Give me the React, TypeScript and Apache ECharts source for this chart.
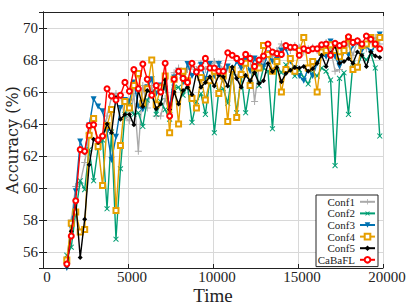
import React, { useEffect, useRef } from "react";
import * as echarts from "echarts";

const TIME = [
  1400, 1663, 1926, 2189, 2452, 2715, 2978, 3241, 3504, 3767, 4030, 4293, 4556, 4819, 5082, 5345,
  5608, 5871, 6134, 6397, 6660, 6923, 7186, 7449, 7712, 7975, 8238, 8501, 8764, 9027, 9290, 9553,
  9816, 10079, 10342, 10605, 10868, 11131, 11394, 11657, 11920, 12183, 12446, 12709, 12972, 13235,
  13498, 13761, 14024, 14287, 14550, 14813, 15076, 15339, 15602, 15865, 16128, 16391, 16654, 16917,
  17180, 17443, 17706, 17969, 18232, 18495, 18758, 19021, 19284, 19547, 19810,
];

const CONF1 = [
  55.3, 58.0, 60.1, 60.3, 61.6, 63.4, 64.2, 62.9, 63.3, 64.5, 65.7, 65.9, 65.8, 64.4, 64.2, 65.9,
  62.3, 66.4, 65.0, 66.4, 64.5, 64.5, 65.6, 64.7, 67.2, 67.5, 66.9, 67.4, 67.6, 67.4, 67.8, 67.4,
  67.6, 67.9, 67.8, 67.4, 67.5, 67.3, 66.9, 67.5, 68.1, 68.2, 65.4, 67.6, 68.0, 68.4, 68.2, 68.6,
  69.0, 68.8, 68.6, 68.9, 68.8, 68.5, 68.7, 68.8, 68.6, 68.9, 69.1, 68.7, 67.3, 67.4, 68.6, 69.0,
  68.3, 69.2, 68.9, 68.7, 69.2, 69.4, 69.0,
];

const CONF2 = [
  55.8, 56.3, 58.5, 60.45, 59.9, 62.4, 60.45, 62.5, 63.0, 58.7, 63.5, 56.8, 61.2, 64.6, 65.4, 64.6,
  64.7, 63.85, 65.5, 66.0, 64.6, 65.4, 64.9, 64.3, 66.3, 66.3, 65.8, 66.4, 64.1, 65.4, 65.9, 64.6,
  66.8, 63.45, 66.1, 66.2, 65.3, 67.2, 64.7, 67.0, 64.7, 66.5, 67.7, 66.4, 67.5, 67.3, 63.7, 67.6,
  67.2, 67.7, 67.4, 67.0, 67.4, 66.9, 66.5, 67.2, 67.0, 67.5, 67.3, 66.75, 61.4, 66.85, 67.2, 64.6,
  67.8, 67.6, 68.3, 68.0, 68.4, 67.5, 63.25,
];

const CONF3 = [
  55.0, 57.5, 59.8, 62.9, 62.2, 63.9, 65.55, 65.1, 64.8, 63.5, 61.75, 63.2, 65.0, 65.5, 65.4, 66.6,
  65.1, 64.9, 66.3, 66.8, 65.9, 66.4, 66.2, 65.1, 66.9, 67.3, 66.6, 67.75, 67.0, 67.2, 67.7, 66.8,
  67.75, 67.0, 67.75, 66.7, 67.6, 67.3, 67.9, 67.5, 68.0, 67.3, 68.1, 67.6, 67.6, 68.4, 67.9, 68.0,
  68.6, 68.7, 67.9, 67.5, 67.0, 66.7, 67.5, 67.0, 67.8, 68.3, 68.2, 69.15, 68.2, 67.6, 68.6, 68.3,
  68.9, 69.1, 68.6, 68.9, 68.5, 68.9, 69.6,
];

const CONF4 = [
  55.5, 57.8, 58.5, 57.25, 57.4, 63.3, 64.35, 62.6, 60.15, 63.9, 64.9, 58.6, 62.65, 65.4, 65.0, 66.4,
  67.15, 65.3, 66.2, 68.0, 65.2, 66.3, 67.0, 63.45, 66.8, 64.0, 67.3, 66.7, 65.6, 65.0, 66.9, 65.5,
  66.7, 67.3, 65.9, 67.0, 64.15, 67.4, 64.4, 67.1, 67.8, 66.4, 67.5, 67.5, 68.9, 68.35, 67.3, 67.9,
  66.0, 67.4, 68.1, 67.3, 68.6, 69.4, 67.5, 67.9, 66.0, 68.5, 68.6, 68.95, 68.6, 68.2, 68.6, 69.35,
  67.4, 67.55, 68.9, 69.0, 69.4, 69.0, 69.4,
];

const CONF5 = [
  54.9, 57.3, 59.15, 55.65, 58.05, 61.45, 63.05, 62.85, 63.2, 64.0, 63.45, 65.65, 64.3, 64.6, 64.6,
  63.95, 66.1, 65.1, 66.1, 65.9, 64.95, 65.25, 66.75, 64.9, 66.0, 65.25, 66.1, 66.3, 65.85, 67.2,
  66.3, 66.6, 66.95, 66.37, 67.05, 66.95, 66.37, 67.57, 66.85, 66.29, 67.05, 66.7, 67.2, 66.53, 66.7,
  67.78, 67.26, 67.53, 66.64, 67.16, 67.36, 67.53, 67.5, 67.6, 67.3, 67.45, 67.8, 68.3, 67.6, 68.4,
  68.9, 67.8, 67.9, 68.1, 67.8, 68.5, 68.3, 67.6, 68.5, 68.25, 68.15,
];

const CABAFL = [
  55.25, 57.0, 59.2, 62.4, 62.3, 63.9, 63.95, 63.0, 63.25, 66.2, 65.75, 65.5, 65.8, 66.6, 66.05, 67.4,
  66.2, 67.75, 66.8, 65.8, 66.4, 66.0, 67.8, 64.5, 66.8, 67.3, 66.85, 66.6, 67.8, 67.25, 67.5, 68.1,
  67.5, 67.5, 67.3, 67.3, 68.45, 68.3, 68.1, 67.9, 68.35, 68.1, 67.6, 68.0, 68.25, 69.0, 68.5, 68.4,
  68.35, 68.9, 68.8, 68.8, 68.3, 68.7, 68.6, 68.7, 68.7, 68.95, 69.0, 68.3, 69.05, 68.9, 69.0, 69.45,
  69.1, 69.2, 69.0, 69.5, 69.3, 69.0, 68.7,
];

const NAMES = ["Conf1", "Conf2", "Conf3", "Conf4", "Conf5", "CaBaFL"];

const FONT = "Liberation Serif";
const PLUS = "path://M-0.7,-5H0.7V-0.7H5V0.7H0.7V5H-0.7V0.7H-5V-0.7H-0.7Z";
const TRI_DOWN = "path://M-5,-3.5L5,-3.5L0,4.5Z";

export default function App() {
  const ref = useRef<HTMLDivElement>(null);
  useEffect(() => {
    if (!ref.current) return;
    const chart = echarts.init(ref.current, undefined, { renderer: "svg" });
    const pair = (vals: number[]) => TIME.map((t, i) => [t, vals[i]]);
    const defs = [
      { data: CONF1, color: "#aaaaaa", symbol: PLUS, size: 7, rotate: 0 },
      { data: CONF2, color: "#009e73", symbol: PLUS, size: 7, rotate: 45 },
      { data: CONF3, color: "#0072b2", symbol: TRI_DOWN, size: 6, rotate: 0 },
      { data: CONF4, color: "#e69f00", symbol: "emptyRect", size: 5, rotate: 0 },
      { data: CONF5, color: "#000000", symbol: "diamond", size: 5, rotate: 0 },
      { data: CABAFL, color: "#ff0000", symbol: "emptyCircle", size: 5, rotate: 0 },
    ];
    const axisLineStyle = { color: "#222", width: 1 };
    chart.setOption({
      animation: false,
      backgroundColor: "#fff",
      grid: { left: 43, right: 24, top: 12, bottom: 37, containLabel: false, outerBoundsMode: "none" },
      legend: {
        orient: "vertical",
        left: 316,
        top: 195,
        align: "right",
        itemWidth: 15,
        itemHeight: 7,
        itemGap: 0,
        padding: [1, 2, 1, 1],
        borderColor: "#222",
        borderWidth: 1,
        backgroundColor: "#fff",
        textStyle: {
          fontFamily: FONT,
          fontSize: 11,
          lineHeight: 11.6,
          color: "#222",
          width: 38,
          align: "right",
        },
        data: NAMES,
      },
      xAxis: [
        {
          type: "value",
          min: 0,
          max: 20000,
          interval: 5000,
          name: "Time",
          nameLocation: "middle",
          nameGap: 19,
          nameMoveOverlap: false,
          nameTextStyle: { fontFamily: FONT, fontSize: 19, lineHeight: 17, color: "#222" },
          axisLine: { lineStyle: axisLineStyle },
          axisTick: { inside: true, length: 4, lineStyle: axisLineStyle },
          axisLabel: {
            fontFamily: FONT,
            fontSize: 15,
            color: "#222",
            margin: 1,
            padding: [0, 0, 0, 8],
            formatter: (v: number) => String(v),
          },
          splitLine: { show: true, lineStyle: { color: "#d8d8d8", width: 1 } },
        },
        {
          type: "value",
          position: "top",
          min: 0,
          max: 20000,
          interval: 5000,
          axisLine: { show: true, lineStyle: axisLineStyle },
          axisTick: { show: true, inside: true, length: 4, lineStyle: axisLineStyle },
          axisLabel: { show: false },
          splitLine: { show: false },
        },
      ],
      yAxis: [
        {
          type: "value",
          min: 55,
          max: 71,
          splitNumber: 8,
          name: "Accuracy (%)",
          nameLocation: "middle",
          nameGap: 22,
          nameMoveOverlap: false,
          nameTextStyle: { fontFamily: "DejaVu Serif", fontSize: 16, lineHeight: 18, color: "#222" },
          axisLine: { show: true, lineStyle: axisLineStyle },
          axisTick: { show: true, inside: true, length: 4, lineStyle: axisLineStyle },
          axisLabel: {
            fontFamily: FONT,
            fontSize: 15,
            color: "#222",
            margin: 5,
            showMinLabel: false,
            showMaxLabel: false,
          },
          splitLine: { show: true, lineStyle: { color: "#d8d8d8", width: 1 } },
        },
        {
          type: "value",
          position: "right",
          min: 55,
          max: 71,
          splitNumber: 8,
          axisLine: { show: true, lineStyle: axisLineStyle },
          axisTick: { show: true, inside: true, length: 4, lineStyle: axisLineStyle },
          axisLabel: { show: false },
          splitLine: { show: false },
        },
      ],
      series: defs.map((d, i) => ({
        name: NAMES[i],
        type: "line",
        data: pair(d.data),
        xAxisIndex: 0,
        yAxisIndex: 0,
        symbol: d.symbol,
        symbolSize: d.size,
        symbolRotate: d.rotate,
        showAllSymbol: true,
        clip: true,
        z: 2 + i,
        lineStyle: { color: d.color, width: 1.4 },
        itemStyle: {
          color: d.color,
          borderColor: d.color,
          borderWidth: d.symbol.startsWith("empty") ? 1.5 : 0,
        },
        emphasis: { disabled: true },
      })),
    });
    return () => chart.dispose();
  }, []);
  return <div ref={ref} style={{ width: 407, height: 305, position: "absolute", left: 0, top: 0 }} />;
}
